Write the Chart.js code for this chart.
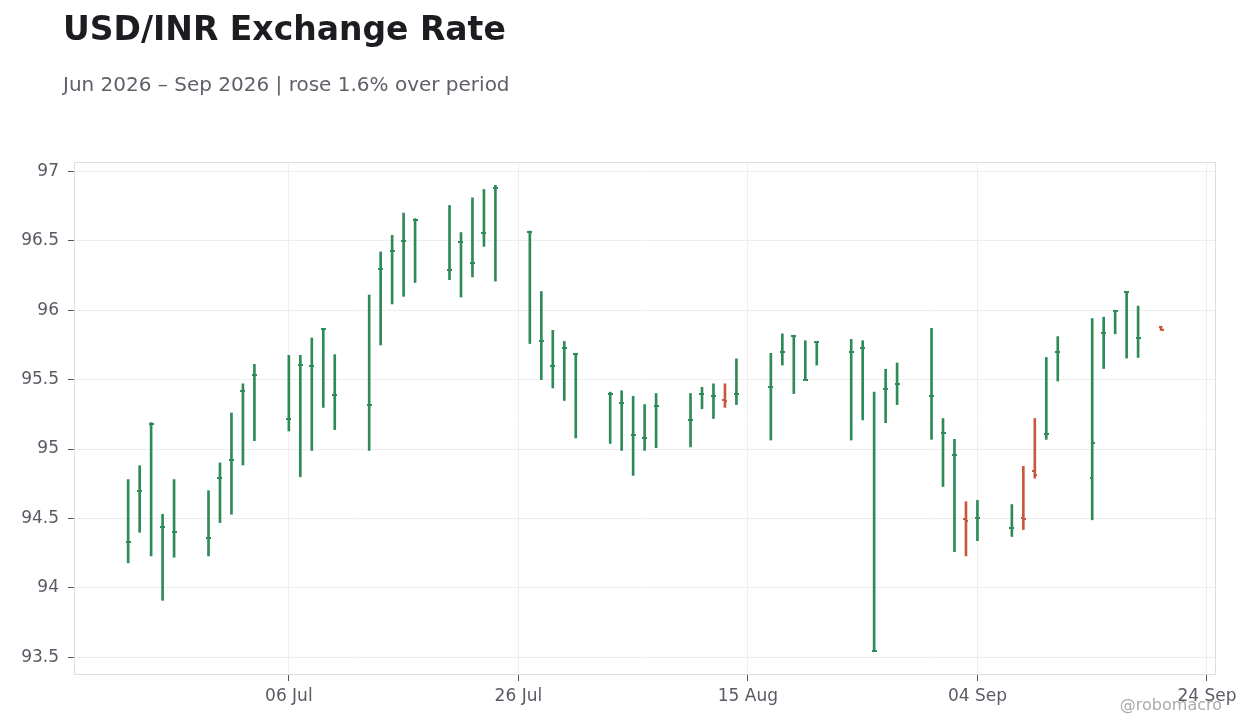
<!DOCTYPE html>
<html>
<head>
<meta charset="utf-8">
<script src="https://cdn.jsdelivr.net/npm/chart.js@4.4.1/dist/chart.umd.min.js"></script>
<style>
  html, body { margin: 0; padding: 0; background: #fff; }
  body { width: 1260px; height: 728px; position: relative; overflow: hidden; font-family: "DejaVu Sans", sans-serif; }
  #title { position: absolute; left: 63px; top: 12px; font-size: 33px; font-weight: bold; line-height: 1; color: #1c1c21; white-space: nowrap; }
  #subtitle { position: absolute; left: 63px; top: 74px; font-size: 20px; line-height: 1; color: #60606a; white-space: nowrap; }
  #credit { position: absolute; right: 38px; top: 697px; font-size: 16px; line-height: 1; color: #aaaaaa; white-space: nowrap; }
  #wrap { position: absolute; left: 0; top: 0; width: 1260px; height: 728px; }
</style>
</head>
<body>
<div id="wrap"><canvas id="chart" width="1260" height="728"></canvas></div>
<div id="title">USD/INR Exchange Rate</div>
<div id="subtitle">Jun 2026 – Sep 2026 | rose 1.6% over period</div>
<div id="credit">@robomacro</div>
<script>
// daily OHLC
const dates = [
  '2026-06-22','2026-06-23','2026-06-24','2026-06-25','2026-06-26',
  '2026-06-29','2026-06-30','2026-07-01','2026-07-02','2026-07-03',
  '2026-07-06','2026-07-07','2026-07-08','2026-07-09','2026-07-10',
  '2026-07-13','2026-07-14','2026-07-15','2026-07-16','2026-07-17',
  '2026-07-20','2026-07-21','2026-07-22','2026-07-23','2026-07-24',
  '2026-07-27','2026-07-28','2026-07-29','2026-07-30','2026-07-31',
  '2026-08-03','2026-08-04','2026-08-05','2026-08-06','2026-08-07',
  '2026-08-10','2026-08-11','2026-08-12','2026-08-13','2026-08-14',
  '2026-08-17','2026-08-18','2026-08-19','2026-08-20','2026-08-21',
  '2026-08-24','2026-08-25','2026-08-26','2026-08-27','2026-08-28',
  '2026-08-31','2026-09-01','2026-09-02','2026-09-03','2026-09-04',
  '2026-09-07','2026-09-08','2026-09-09','2026-09-10','2026-09-11',
  '2026-09-14','2026-09-15','2026-09-16','2026-09-17','2026-09-18',
  '2026-09-20'
];
const highs = [
  94.78, 94.88, 95.19, 94.53, 94.78,
  94.70, 94.90, 95.26, 95.47, 95.61,
  95.675, 95.675, 95.80, 95.87, 95.68,
  96.11, 96.42, 96.54, 96.70, 96.66,
  96.755, 96.56, 96.81, 96.87, 96.90,
  96.57, 96.135, 95.855, 95.775, 95.69,
  95.41, 95.42, 95.38, 95.32, 95.40,
  95.40, 95.445, 95.47, 95.47, 95.65,
  95.69, 95.83, 95.82, 95.78, 95.775,
  95.79, 95.78, 95.41, 95.575, 95.62,
  95.87, 95.22, 95.07, 94.62, 94.63,
  94.60, 94.875, 95.22, 95.66, 95.81,
  95.94, 95.95, 96.00, 96.135, 96.03,
  95.885
];
const lows = [
  94.18, 94.40, 94.23, 93.91, 94.22,
  94.23, 94.47, 94.53, 94.885, 95.06,
  95.13, 94.80, 94.99, 95.30, 95.14,
  94.99, 95.75, 96.045, 96.10, 96.20,
  96.22, 96.095, 96.24, 96.46, 96.21,
  95.76, 95.50, 95.44, 95.35, 95.08,
  95.04, 94.99, 94.81, 94.99, 95.01,
  95.015, 95.29, 95.22, 95.30, 95.32,
  95.065, 95.605, 95.40, 95.495, 95.605,
  95.065, 95.21, 93.54, 95.19, 95.32,
  95.07, 94.73, 94.26, 94.23, 94.34,
  94.37, 94.42, 94.79, 95.07, 95.49,
  94.49, 95.58, 95.83, 95.655, 95.66,
  95.855
];
const opens = [
  94.33, 94.70, 95.18, 94.44, 94.40,
  94.36, 94.79, 94.92, 95.42, 95.53,
  95.22, 95.605, 95.60, 95.865, 95.39,
  95.32, 96.30, 96.43, 96.50, 96.65,
  96.29, 96.49, 96.34, 96.555, 96.88,
  96.565, 95.78, 95.60, 95.73, 95.685,
  95.40, 95.33, 95.10, 95.08, 95.31,
  95.21, 95.40, 95.38, 95.355, 95.40,
  95.45, 95.70, 95.815, 95.50, 95.77,
  95.70, 95.73, 93.545, 95.43, 95.47,
  95.38, 95.115, 94.96, 94.495, 94.50,
  94.43, 94.505, 94.845, 95.11, 95.70,
  94.79, 95.835, 95.995, 96.13, 95.80,
  95.88
];
const closes = [
  94.33, 94.70, 95.18, 94.44, 94.40,
  94.36, 94.79, 94.92, 95.42, 95.53,
  95.22, 95.605, 95.60, 95.865, 95.39,
  95.32, 96.30, 96.43, 96.50, 96.65,
  96.29, 96.49, 96.34, 96.555, 96.88,
  96.565, 95.78, 95.60, 95.73, 95.685,
  95.40, 95.33, 95.10, 95.08, 95.31,
  95.21, 95.40, 95.38, 95.345, 95.40,
  95.45, 95.70, 95.815, 95.50, 95.77,
  95.70, 95.73, 93.545, 95.43, 95.47,
  95.38, 95.115, 94.96, 94.485, 94.50,
  94.43, 94.495, 94.815, 95.11, 95.70,
  95.04, 95.835, 95.995, 96.13, 95.80,
  95.86
];
const yTicks = [93.5, 94, 94.5, 95, 95.5, 96, 96.5, 97];
const xTickDates = ['2026-07-06', '2026-07-26', '2026-08-15', '2026-09-04', '2026-09-24'];
const xTickLabels = ['06 Jul', '26 Jul', '15 Aug', '04 Sep', '24 Sep'];

const UP = '#2e8b57';
const DOWN = '#c85a3c';

// day number relative to 06 Jul
const base = Date.UTC(2026, 6, 6);
function dayOf(s) {
  const p = s.split('-').map(Number);
  return Math.round((Date.UTC(p[0], p[1] - 1, p[2]) - base) / 86400000);
}
const xs = dates.map(dayOf);
const xTickDays = xTickDates.map(dayOf);
const colors = closes.map((c, i) => c >= opens[i] ? UP : DOWN);

const yLo = Math.min(...lows), yHi = Math.max(...highs);
const yPad = (yHi - yLo) * 0.05;

function tickImage(color, side) {
  const c = document.createElement('canvas');
  c.width = 5; c.height = 2;
  const g = c.getContext('2d');
  g.fillStyle = color;
  g.fillRect(side === 'left' ? 0 : 2.5, 0, 2.5, 2);
  return c;
}
const imgs = {
  left: { [UP]: tickImage(UP, 'left'), [DOWN]: tickImage(DOWN, 'left') },
  right: { [UP]: tickImage(UP, 'right'), [DOWN]: tickImage(DOWN, 'right') }
};

const frame = {
  id: 'frame',
  beforeDatasetsDraw(chart) {
    const a = chart.chartArea, ctx = chart.ctx;
    ctx.save();
    ctx.strokeStyle = '#dedede';
    ctx.lineWidth = 1;
    ctx.strokeRect(a.left + 0.5, a.top + 0.5, a.right - a.left, a.bottom - a.top - 1);
    ctx.restore();
  }
};

new Chart(document.getElementById('chart'), {
  type: 'bar',
  data: {
    datasets: [
      {
        type: 'bar',
        data: xs.map((x, i) => ({ x: x, y: [lows[i], highs[i]] })),
        backgroundColor: colors,
        borderWidth: 0,
        barThickness: 2,
        grouped: false,
        order: 2
      },
      {
        type: 'scatter',
        data: xs.map((x, i) => ({ x: x, y: opens[i] })),
        pointStyle: colors.map(c => imgs.left[c]),
        radius: 3,
        order: 1
      },
      {
        type: 'scatter',
        data: xs.map((x, i) => ({ x: x, y: closes[i] })),
        pointStyle: colors.map(c => imgs.right[c]),
        radius: 3,
        order: 1
      }
    ]
  },
  options: {
    responsive: false,
    animation: false,
    events: [],
    layout: { padding: { top: 162, right: 45, left: 0, bottom: 0 } },
    plugins: { legend: { display: false }, tooltip: { enabled: false } },
    scales: {
      x: {
        type: 'linear',
        offset: false,
        min: xs[0] - 4.72,
        max: xs[xs.length - 1] + 4.7,
        afterBuildTicks: axis => { axis.ticks = xTickDays.map(v => ({ value: v })); },
        afterFit: axis => { axis.height = 53; },
        grid: { offset: false, color: '#eeeeee', tickColor: '#555555', tickLength: 6, drawTicks: true },
        border: { display: false },
        ticks: {
          padding: 5,
          maxRotation: 0,
          autoSkip: false,
          color: '#5a5a64',
          font: { family: 'DejaVu Sans', size: 17 },
          callback: v => xTickLabels[xTickDays.indexOf(v)]
        }
      },
      y: {
        min: yLo - yPad,
        max: yHi + yPad,
        afterBuildTicks: axis => { axis.ticks = yTicks.map(v => ({ value: v })); },
        afterFit: axis => { axis.width = 74; },
        grid: { color: '#eeeeee', tickColor: '#555555', tickLength: 6 },
        border: { display: false },
        ticks: {
          padding: 9,
          color: '#5a5a64',
          font: { family: 'DejaVu Sans', size: 17 },
          callback: v => String(v)
        }
      }
    }
  },
  plugins: [frame]
});
</script>
</body>
</html>
